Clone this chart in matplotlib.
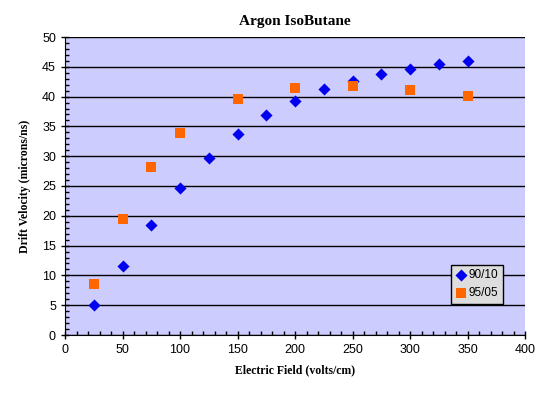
import matplotlib
matplotlib.use("Agg")
import matplotlib.pyplot as plt
from matplotlib.ticker import MultipleLocator

x_9010 = [25, 50, 75, 100, 125, 150, 175, 200, 225, 250, 275, 300, 325, 350]
v_9010 = [5.0, 11.6, 18.5, 24.7, 29.7, 33.7, 36.9, 39.3, 41.3, 42.7, 43.8, 44.7, 45.4, 45.9]
x_9505 = [25, 50, 75, 100, 150, 200, 250, 300, 350]
v_9505 = [8.6, 19.5, 28.2, 33.9, 39.6, 41.4, 41.8, 41.1, 40.1]
labels = ["90/10", "95/05"]

fig = plt.figure(figsize=(5.56, 3.97), dpi=100)
ax = fig.add_axes([65/556, 62/397, 460/556, 298/397])
ax.set_facecolor("#CCCCFF")

ax.scatter(x_9010, v_9010, marker="D", s=38, color="#0000EE", label=labels[0], zorder=3, linewidths=0)
ax.scatter(x_9505, v_9505, marker="s", s=50, color="#FF6600", label=labels[1], zorder=3, linewidths=0)

ax.set_xlim(0, 400)
ax.set_ylim(0, 50)
ax.xaxis.set_major_locator(MultipleLocator(50))
ax.xaxis.set_minor_locator(MultipleLocator(10))
ax.yaxis.set_major_locator(MultipleLocator(5))
ax.yaxis.set_minor_locator(MultipleLocator(1))
ax.grid(axis="y", which="major", color="black", linewidth=1)
ax.set_axisbelow(True)
for s in ["top", "right"]:
    ax.spines[s].set_visible(False)
ax.tick_params(which="major", direction="inout", length=6, width=1)
ax.tick_params(which="minor", direction="in", length=3, width=1)
for lab in ax.get_xticklabels() + ax.get_yticklabels():
    lab.set_family("Liberation Sans")
    lab.set_fontsize(9)

ax.set_title("Argon IsoButane", fontfamily="Liberation Serif", fontweight="bold", fontsize=11, pad=9)
ax.set_xlabel("Electric Field (volts/cm)", fontfamily="Liberation Serif", fontweight="bold", fontsize=8.5, labelpad=6)
ax.set_ylabel("Drift Velocity (microns/ns)", fontfamily="Liberation Serif", fontweight="bold", fontsize=8.5, labelpad=8)

leg = ax.legend(loc="lower right", bbox_to_anchor=(0.952, 0.104), frameon=True, fancybox=False,
                prop={"family": "Liberation Sans", "size": 8.5}, handletextpad=0.1,
                borderpad=0.4, labelspacing=0.5, handlelength=1.0, borderaxespad=0)
leg.get_frame().set_facecolor("#DDDDDD")
leg.get_frame().set_edgecolor("black")
leg.get_frame().set_alpha(1)
leg.get_frame().set_linewidth(1)

fig.savefig("out.png", dpi=100)
